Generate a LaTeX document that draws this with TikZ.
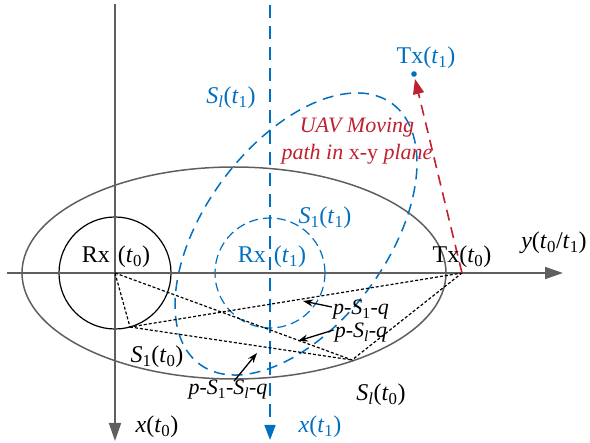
\documentclass[tikz,border=0pt]{standalone}
\usepackage{fontspec}
\setmainfont{Liberation Serif}
\usetikzlibrary{arrows.meta}
\definecolor{axgray}{RGB}{95,95,95}
\definecolor{uavblue}{RGB}{0,112,192}
\definecolor{uavred}{RGB}{192,32,48}
\newcommand{\tsub}[2]{\textit{#1}\textsubscript{#2}}
\begin{document}
\begin{tikzpicture}[x=1pt,y=-1pt,
  axis/.style={draw=axgray, line width=1.8pt, -{Triangle[length=18pt,width=12pt]}},
  baxis/.style={draw=uavblue, line width=1.7pt, dash pattern=on 13pt off 8pt, -{Triangle[length=15pt,width=11pt]}},
  bdash/.style={draw=uavblue, line width=1.5pt, dash pattern=on 11pt off 7pt},
  bdashs/.style={draw=uavblue, line width=1.2pt, dash pattern=on 9pt off 5pt},
  ray/.style={draw=black, line width=1.2pt, dash pattern=on 3pt off 2pt},
  pointer/.style={draw=black, line width=1.3pt, -{Stealth[length=10pt,width=7pt]}},
  lbl/.style={font=\fontsize{24}{28}\selectfont, inner sep=0pt},
  blbl/.style={lbl, text=uavblue},
  small/.style={font=\fontsize{22}{26}\selectfont, inner sep=0pt}]
\useasboundingbox (0,0) rectangle (590,443);
% key points
\coordinate (p) at (115,273);
\coordinate (q) at (462,273);
\coordinate (s1) at (130,327);
\coordinate (sl) at (352,360);
\coordinate (tx1) at (414,74);
\coordinate (yl) at (7,273);
\coordinate (yr) at (563,273);
\coordinate (xt) at (115,4);
\coordinate (xb) at (115,441);
\coordinate (bt) at (270,5);
\coordinate (bb) at (270,440);
\coordinate (redend) at (415,79);
% big gray ellipse
\draw[draw=axgray, line width=1.5pt] (234,273) ellipse [x radius=212, y radius=106];
% black circle
\draw[line width=1.2pt] (p) circle [radius=56];
% blue dashed circle
\draw[bdashs] (270,273) circle [radius=55];
% blue dashed tilted ellipse
\draw[bdash, rotate around={53.5:(296,234)}] (296,234) ellipse [x radius=162, y radius=91];
% axes
\draw[axis] (yl) -- (yr);
\draw[axis] (xt) -- (xb);
\draw[baxis] (bt) -- (bb);
% dotted rays
\draw[ray] (p) -- (s1) -- (q);
\draw[ray] (p) -- (sl) -- (q);
\draw[ray] (s1) -- (sl);
% red path
\draw[draw=uavred, line width=1.6pt, dash pattern=on 11pt off 7pt, -{Triangle[length=15pt,width=11pt]}] (q) -- (redend);
\fill[uavblue] (tx1) circle [radius=2.8];
% labels
\node[blbl] (ltx1) at (426,58) {Tx(\tsub{t}{1})};
\node[blbl] (lslt1) at (231,98) {\tsub{S}{\textit{l}}(\tsub{t}{1})};
\node[small, text=uavred, align=center] (luav) at (357,141) {\textit{UAV Moving}\\[1pt]\textit{path in} x-y \textit{plane}};
\node[blbl] (ls1t1) at (325,218) {\tsub{S}{1}(\tsub{t}{1})};
\node[blbl] (lrxt1) at (272,257) {Rx\,\,(\tsub{t}{1})};
\node[lbl] (lrxt0) at (116,257) {Rx\,\,(\tsub{t}{0})};
\node[lbl] (ltxt0) at (462,257) {Tx(\tsub{t}{0})};
\node[lbl] (ly) at (554,243) {\textit{y}(\tsub{t}{0}/\tsub{t}{1})};
\node[lbl] (lx0) at (157,427) {\textit{x}(\tsub{t}{0})};
\node[blbl] (lx1) at (320,427) {\textit{x}(\tsub{t}{1})};
\node[lbl] (ls1t0) at (157,357) {\tsub{S}{1}(\tsub{t}{0})};
\node[lbl] (lslt0) at (381,395) {\tsub{S}{\textit{l}}(\tsub{t}{0})};
\node[small] (lp1l) at (228,390) {\textit{p}-\tsub{S}{1}-\tsub{S}{\textit{l}}-\textit{q}};
\node[small] (lp1) at (361,310) {\textit{p}-\tsub{S}{1}-\textit{q}};
\node[small] (lpl) at (361,333) {\textit{p}-\tsub{S}{\textit{l}}-\textit{q}};
% pointers
\coordinate (a1) at (257,353);
\coordinate (a2) at (303,301);
\coordinate (a3) at (298,341);
\draw[pointer] (lp1l.north) ++(6,1) -- (a1);
\draw[pointer] (lp1.west) ++(-1,-3) -- (a2);
\draw[pointer] (lpl.west) ++(-1,-3) -- (a3);
\end{tikzpicture}
\end{document}
